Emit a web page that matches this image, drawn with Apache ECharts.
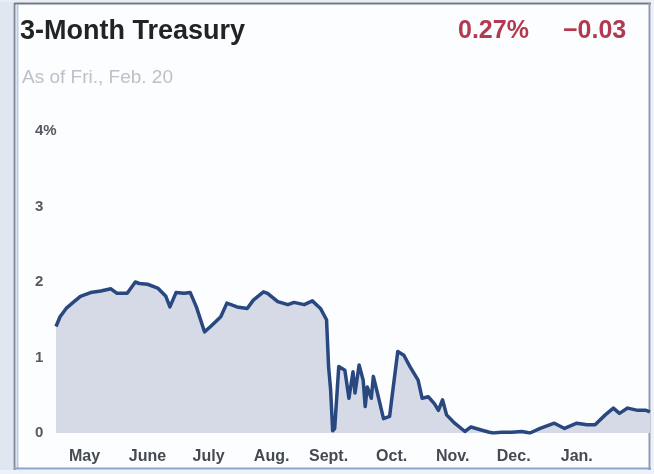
<!DOCTYPE html>
<html>
<head>
<meta charset="utf-8">
<script src="https://cdn.jsdelivr.net/npm/echarts@6/dist/echarts.min.js"></script>
<style>
html,body{margin:0;padding:0;background:#fcfdff;}
#chart{width:654px;height:474px;}
</style>
</head>
<body>
<div id="chart"></div>
<script>
var dates = [
  '2008-05-04','2008-05-06','2008-05-09','2008-05-12','2008-05-16','2008-05-21','2008-05-26','2008-05-31',
  '2008-06-03','2008-06-08','2008-06-12','2008-06-14','2008-06-18','2008-06-23','2008-06-27','2008-06-29',
  '2008-07-02','2008-07-06','2008-07-09','2008-07-12','2008-07-16','2008-07-19','2008-07-24','2008-07-27',
  '2008-08-01','2008-08-06','2008-08-09','2008-08-14','2008-08-16','2008-08-21','2008-08-26','2008-08-29',
  '2008-09-03','2008-09-07','2008-09-11','2008-09-14','2008-09-15','2008-09-16','2008-09-17','2008-09-18',
  '2008-09-20','2008-09-23','2008-09-25','2008-09-27','2008-09-28','2008-09-30',
  '2008-10-02','2008-10-03','2008-10-04','2008-10-06','2008-10-07','2008-10-09','2008-10-12','2008-10-15',
  '2008-10-16','2008-10-19','2008-10-22','2008-10-25','2008-10-29','2008-10-31',
  '2008-11-03','2008-11-06','2008-11-08','2008-11-10','2008-11-12','2008-11-16','2008-11-21','2008-11-24','2008-11-29',
  '2008-12-03','2008-12-05','2008-12-09','2008-12-14','2008-12-19','2008-12-23','2008-12-28',
  '2009-01-04','2009-01-09','2009-01-15','2009-01-20','2009-01-24','2009-01-29',
  '2009-02-02','2009-02-05','2009-02-09','2009-02-14','2009-02-18','2009-02-20'
];
var yields = [
  1.41,1.54,1.65,1.72,1.81,1.86,1.88,1.91,
  1.85,1.85,2.00,1.98,1.97,1.92,1.81,1.67,
  1.86,1.85,1.86,1.67,1.34,1.41,1.54,1.72,
  1.67,1.65,1.76,1.87,1.85,1.74,1.70,1.73,
  1.70,1.75,1.65,1.50,0.88,0.57,0.03,0.06,
  0.88,0.83,0.46,0.81,0.53,0.90,
  0.70,0.35,0.61,0.46,0.75,0.53,0.19,0.22,
  0.44,1.08,1.03,0.88,0.70,0.46,
  0.48,0.39,0.30,0.44,0.24,0.13,0.02,0.08,0.04,
  0.01,0.00,0.01,0.01,0.02,0.00,0.06,
  0.13,0.06,0.13,0.11,0.11,0.24,
  0.33,0.26,0.33,0.30,0.30,0.28
];
var monthLabels = ['May','June','July','Aug.','Sept.','Oct.','Nov.','Dec.','Jan.'];
var monthLabelDates = ['2008-05-18','2008-06-18','2008-07-18','2008-08-18','2008-09-15','2008-10-16','2008-11-15','2008-12-15','2009-01-15'];
var yTicks = [0,1,2,3,4];
var titleText = '3-Month Treasury';
var lastValue = '0.27%';
var change = '\u22120.03';
var asOf = 'As of Fri., Feb. 20';

var font = '"Liberation Sans", Arial, sans-serif';
function ts(d){ return Date.parse(d + 'T00:00:00Z'); }
var labelTs = monthLabelDates.map(ts);
var seriesData = dates.map(function(d, i){ return [ts(d), yields[i]]; });

var chart = echarts.init(document.getElementById('chart'), null, {renderer:'canvas'});
chart.setOption({
  backgroundColor: '#fcfdff',
  animation: false,
  title: [
    {text: titleText, left: 20, top: 18, padding: 0, textStyle:{fontFamily: font, fontSize: 27, fontWeight: 'bold', color: '#232323'}},
    {text: lastValue, left: 458, top: 19, padding: 0, textStyle:{fontFamily: font, fontSize: 25, fontWeight: 'bold', color: '#b23a50'}},
    {text: change, left: 563, top: 19, padding: 0, textStyle:{fontFamily: font, fontSize: 25, fontWeight: 'bold', color: '#b23a50'}},
    {text: asOf, left: 22, top: 68, padding: 0, textStyle:{fontFamily: font, fontSize: 19, fontWeight: 'normal', color: '#bcc0c8'}}
  ],
  graphic: [
    {type:'rect', shape:{x:0,y:0,width:13,height:474}, style:{fill:'#e1e7f1'}, silent:true},
    {type:'rect', shape:{x:0,y:0,width:654,height:2}, style:{fill:'#e9edf4'}, silent:true},
    {type:'rect', shape:{x:651,y:0,width:3,height:474}, style:{fill:'#eef2f8'}, silent:true},
    {type:'rect', shape:{x:0,y:470,width:654,height:4}, style:{fill:'#eef2f8'}, silent:true},
    {type:'line', shape:{x1:14.5,y1:3,x2:14.5,y2:470}, style:{stroke:'#7f8898', lineWidth:2}, silent:true},
    {type:'line', shape:{x1:17.5,y1:5,x2:17.5,y2:468}, style:{stroke:'#bccbe4', lineWidth:2}, silent:true},
    {type:'line', shape:{x1:14,y1:3.5,x2:651,y2:3.5}, style:{stroke:'#6f7886', lineWidth:2}, silent:true},
    {type:'line', shape:{x1:649.5,y1:3,x2:649.5,y2:470}, style:{stroke:'#8e9bb3', lineWidth:2}, silent:true},
    {type:'line', shape:{x1:14,y1:468.5,x2:651,y2:468.5}, style:{stroke:'#8aa2c9', lineWidth:2}, silent:true}
  ],
  grid: {left: 56, right: 4, top: 131, bottom: 41, containLabel: false},
  xAxis: {
    type: 'value',
    min: ts(dates[0]),
    max: ts(dates[dates.length-1]),
    axisLine: {show: false},
    axisTick: {show: false},
    splitLine: {show: false},
    axisLabel: {
      customValues: labelTs,
      margin: 16,
      fontFamily: font,
      fontSize: 16,
      fontWeight: 'bold',
      color: '#454a52',
      hideOverlap: false,
      formatter: function(v){
        var best = 0, bd = Infinity;
        for (var i = 0; i < labelTs.length; i++) { var d = Math.abs(labelTs[i] - v); if (d < bd) { bd = d; best = i; } }
        return monthLabels[best];
      }
    }
  },
  yAxis: {
    type: 'value',
    min: 0, max: 4, interval: 1,
    axisLine: {show: false},
    axisTick: {show: false},
    splitLine: {show: false},
    axisLabel: {
      align: 'left',
      margin: 21,
      fontFamily: font,
      fontSize: 15,
      fontWeight: 'bold',
      color: '#555a62',
      verticalAlign: 'middle',
      padding: [6, 0, 0, 0],
      formatter: function(v){ return v === yTicks[yTicks.length-1] ? v + '%' : String(v); }
    }
  },
  series: [{
    type: 'line',
    data: seriesData,
    showSymbol: false,
    smooth: false,
    lineStyle: {color: '#28487f', width: 3.5, join: 'round'},
    areaStyle: {color: '#d6dae7', opacity: 1},
    z: 3
  }]
});
</script>
</body>
</html>
